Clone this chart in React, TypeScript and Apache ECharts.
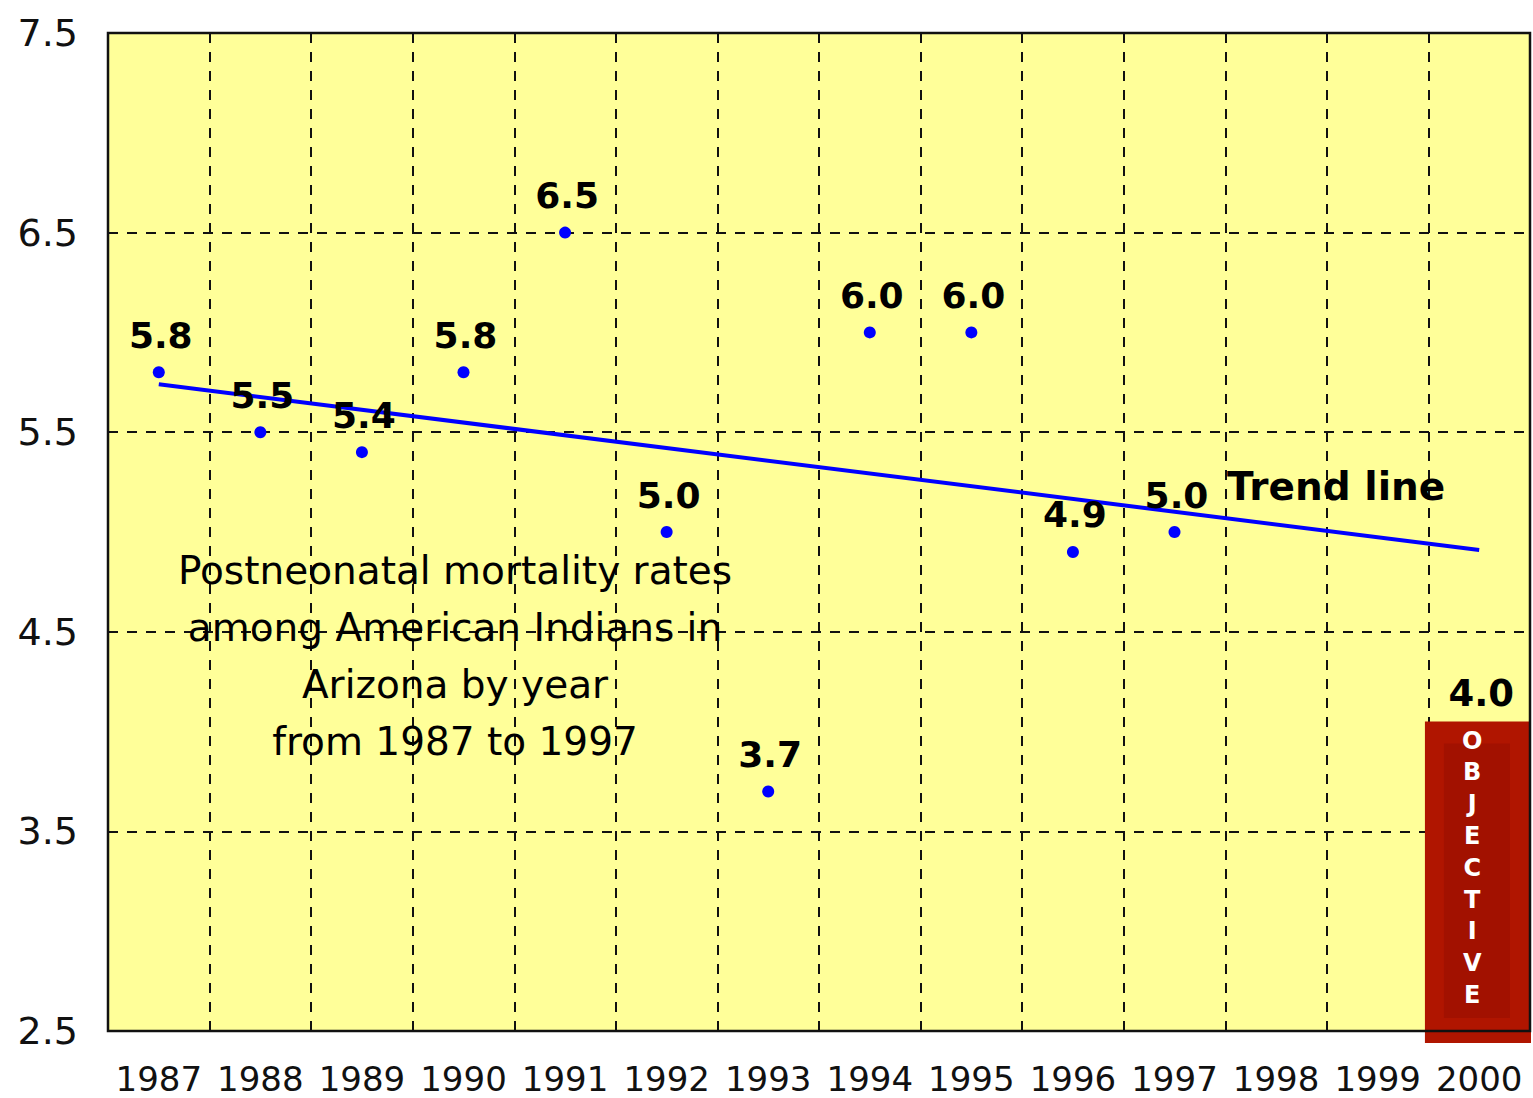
import { useEffect, useRef } from "react";
import * as echarts from "echarts";

const years = ["1987", "1988", "1989", "1990", "1991", "1992", "1993", "1994", "1995", "1996", "1997", "1998", "1999", "2000"];
const rateYears = ["1987", "1988", "1989", "1990", "1991", "1992", "1993", "1994", "1995", "1996", "1997"];
const rates = [5.8, 5.5, 5.4, 5.8, 6.5, 5.0, 3.7, 6.0, 6.0, 4.9, 5.0];
const trendYears = ["1987", "2000"];
const trendValues = [5.74, 4.91];
const objectiveYear = "2000";
const objectiveValue = 4.0;
const objectiveWord = "OBJECTIVE";
const yMin = 2.5;
const yMax = 7.5;
const yStep = 1;
const noteLines = ["Postneonatal mortality rates", "among American Indians in", "Arizona by year", "from 1987 to 1997"];
const trendLabel = "Trend line";

const FONT = '"DejaVu Sans", Verdana, sans-serif';

export default function App() {
  const ref = useRef<HTMLDivElement>(null);

  useEffect(() => {
    if (!ref.current) return;
    const chart = echarts.init(ref.current, undefined, { renderer: "svg" });
    const gridLeft = 108;
    const gridTop = 33;
    const gridW = 1422;
    const gridH = 998;
    const dash = { color: "#111", width: 2, type: [10, 9] as any };

    chart.setOption({
      animation: false,
      backgroundColor: "#ffffff",
      grid: {
        left: gridLeft,
        top: gridTop,
        width: gridW,
        height: gridH,
        show: true,
        backgroundColor: "#FFFF99",
        borderColor: "#111",
        borderWidth: 0,
      },
      xAxis: {
        type: "category",
        data: years,
        boundaryGap: true,
        axisLine: { show: false },
        axisTick: { show: false },
        axisLabel: {
          interval: 0,
          margin: 31,
          color: "#111",
          fontFamily: FONT,
          fontSize: 34,
          lineHeight: 34,
        },
        splitLine: { show: true, interval: 0, lineStyle: dash },
      },
      yAxis: {
        type: "value",
        min: yMin,
        max: yMax,
        interval: yStep,
        axisLine: { show: false },
        axisTick: { show: false },
        axisLabel: {
          margin: 30,
          color: "#111",
          fontFamily: FONT,
          fontSize: 38,
          formatter: (v: number) => v.toFixed(1),
        },
        splitLine: { show: true, lineStyle: dash },
      },
      series: [
        {
          type: "line",
          data: trendYears.map((y, i) => [y, trendValues[i]]),
          showSymbol: false,
          symbol: "none",
          lineStyle: { color: "#0000ff", width: 4 },
          z: 2,
          silent: true,
        },
        {
          type: "scatter",
          data: rateYears.map((y, i) => [y, rates[i]]),
          symbol: "circle",
          symbolSize: 12,
          itemStyle: { color: "#0000ff", opacity: 1 },
          label: {
            show: true,
            position: "inside",
            offset: [2, -37],
            color: "#000",
            opacity: 1,
            fontFamily: FONT,
            fontWeight: "bold",
            fontSize: 36,
            formatter: (p: any) => Number(p.value[1]).toFixed(1),
          },
          z: 3,
        },
        {
          type: "custom",
          clip: false,
          data: [[objectiveYear, objectiveValue]],
          z: 4,
          renderItem: (params: any, api: any) => {
            const pt = api.coord([api.value(0), api.value(1)]);
            const base = api.coord([api.value(0), yMin]);
            const bandW = api.size([1, 0])[0];
            const cx = pt[0];
            const left = cx - bandW / 2 - 3.5;
            const w = bandW + 4.5;
            const top = pt[1] - 10;
            const bottom = base[1] + 12;
            return {
              type: "group",
              children: [
                {
                  type: "rect",
                  shape: { x: left, y: top, width: w, height: bottom - top },
                  style: { fill: "#b01500" },
                },
                {
                  type: "rect",
                  shape: { x: left + 19, y: top + 22, width: w - 40, height: bottom - top - 47 },
                  style: { fill: "#a21100" },
                },
                {
                  type: "text",
                  style: {
                    text: objectiveWord.split("").join("\n"),
                    x: cx - 7,
                    y: top + 3,
                    align: "center",
                    verticalAlign: "top",
                    fill: "#ffffff",
                    font: `bold 24px ${FONT}`,
                    lineHeight: 31.8,
                  },
                },
                {
                  type: "text",
                  style: {
                    text: Number(api.value(1)).toFixed(1),
                    x: cx + 2,
                    y: top - 28,
                    align: "center",
                    verticalAlign: "middle",
                    fill: "#000",
                    font: `bold 37px ${FONT}`,
                  },
                },
              ],
            };
          },
        },
      ],
      graphic: [
        {
          type: "rect",
          z: 100,
          silent: true,
          shape: { x: gridLeft, y: gridTop, width: gridW, height: gridH },
          style: { fill: "none", stroke: "#111", lineWidth: 2.5 },
        },
        {
          type: "text",
          z: 100,
          x: 455,
          y: 542,
          style: {
            text: noteLines.join("\n"),
            align: "center",
            verticalAlign: "top",
            fill: "#000",
            font: `39px ${FONT}`,
            lineHeight: 57,
          },
        },
        {
          type: "text",
          z: 100,
          x: 1227,
          y: 486,
          style: {
            text: trendLabel,
            align: "left",
            verticalAlign: "middle",
            fill: "#000",
            font: `bold 39px ${FONT}`,
          },
        },
      ],
    });

    return () => chart.dispose();
  }, []);

  return (
    <div
      ref={ref}
      style={{ position: "absolute", left: 0, top: 0, width: 1533, height: 1098, background: "#fff" }}
    />
  );
}
